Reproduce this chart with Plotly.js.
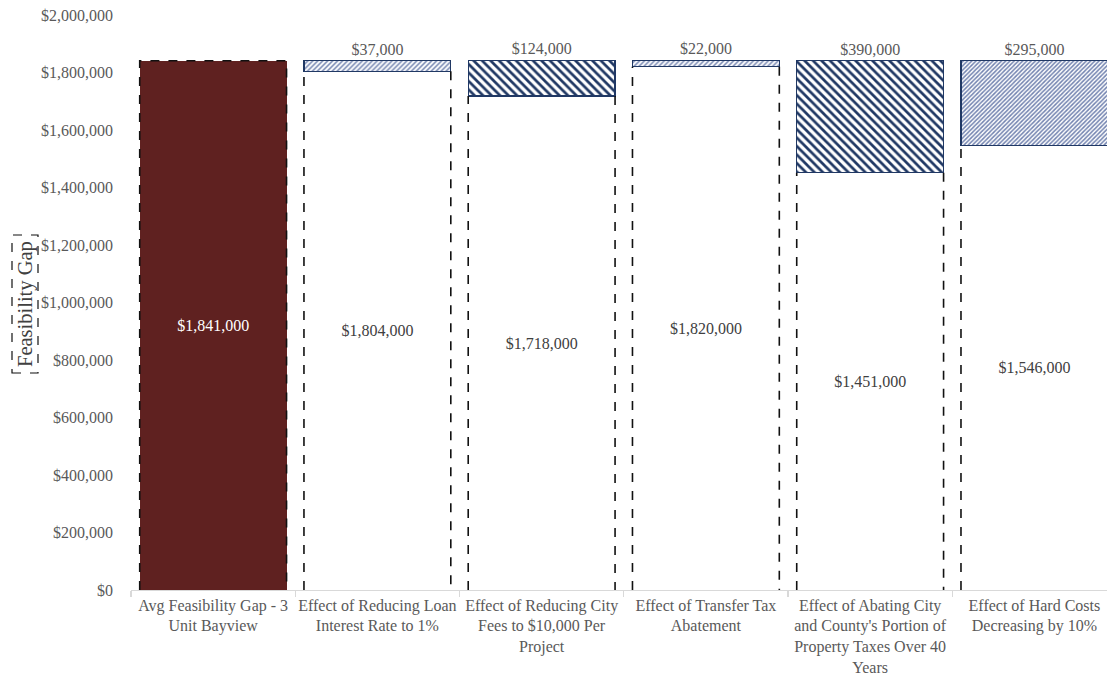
<!DOCTYPE html>
<html>
<head>
<meta charset="utf-8">
<script src="https://cdn.plot.ly/plotly-3.0.1.min.js"></script>
<style>html,body{margin:0;padding:0;background:#fff;overflow:hidden}#chart{width:1107px;height:678px}</style>
</head>
<body>
<div id="chart"></div>
<script>
// ---- data ----
const categories = [
  "Avg Feasibility Gap - 3<br>Unit Bayview",
  "Effect of Reducing Loan<br>Interest Rate to 1%",
  "Effect of Reducing City<br>Fees to $10,000 Per<br>Project",
  "Effect of Transfer Tax<br>Abatement",
  "Effect of Abating City<br>and County's Portion of<br>Property Taxes Over 40<br>Years",
  "Effect of Hard Costs<br>Decreasing by 10%"
];
const remainingGap = [1841000, 1804000, 1718000, 1820000, 1451000, 1546000];
const reduction    = [null, 37000, 124000, 22000, 390000, 295000];
const yTicks = [0, 200000, 400000, 600000, 800000, 1000000, 1200000, 1400000, 1600000, 1800000, 2000000];

// ---- styling ----
const FONT = "Liberation Serif, Times New Roman, serif";
const GRAY = "#595959";
const NAVY = "#203864";
const FS = 16;
const barW = 0.894;
const xIdx = categories.map((_, i) => i);
const fmt = v => "$" + v.toLocaleString("en-US");

const baseColors = remainingGap.map((_, i) => i === 0 ? "#5F2120" : "#ffffff");
const baseTextColors = remainingGap.map((_, i) => i === 0 ? "#ffffff" : "#404040");
const patShapes = ["", "/", "\\", "/", "\\", "/"];
const patSizes  = [8, 3.5, 6, 3.5, 6, 3];
const patSolid  = [0.3, 0.4, 0.45, 0.4, 0.45, 0.5];
const patFg     = ["#fff", "#6a7cab", NAVY, "#6a7cab", NAVY, "#7283b0"];

// dashed outlines built from the data
const ox = [], oy = [];
remainingGap.forEach((v, i) => {
  const l = i - barW / 2, r = i + barW / 2;
  if (reduction[i] == null) {
    ox.push(l, l, r, r, null); oy.push(0, v, v, 0, null);
  } else {
    ox.push(l, l, null, r, r, null); oy.push(0, v, null, v, 0, null);
  }
});

const traces = [
  {
    type: "bar", x: xIdx, y: remainingGap, width: barW,
    marker: { color: baseColors, line: { width: 0 } },
    text: remainingGap.map(fmt), textposition: "inside", insidetextanchor: "middle",
    textangle: 0, constraintext: "none",
    textfont: { family: FONT, size: FS, color: baseTextColors },
    hoverinfo: "skip", showlegend: false
  },
  {
    type: "bar", x: xIdx, y: reduction, width: barW,
    marker: {
      color: "#ffffff",
      line: { color: NAVY, width: 1.2 },
      pattern: { shape: patShapes, size: patSizes, solidity: patSolid, fgcolor: patFg, bgcolor: "#ffffff", fillmode: "replace" }
    },
    text: reduction.map(v => v == null ? "" : fmt(v)), textposition: "outside",
    textangle: 0, constraintext: "none", cliponaxis: false,
    textfont: { family: FONT, size: FS, color: GRAY },
    hoverinfo: "skip", showlegend: false
  },
  {
    type: "scatter", mode: "lines", x: ox, y: oy,
    line: { color: "#111111", width: 1.6, dash: "dash" },
    hoverinfo: "skip", showlegend: false
  }
];

const layout = {
  width: 1107, height: 678,
  margin: { l: 131, r: 0, t: 15, b: 88 },
  paper_bgcolor: "#ffffff", plot_bgcolor: "#ffffff",
  barmode: "stack",
  font: { family: FONT, size: FS, color: GRAY },
  xaxis: {
    range: [-0.5, 5.442], tickmode: "array", tickvals: xIdx, ticktext: categories,
    ticks: "", showgrid: false, zeroline: false,
    showline: true, linecolor: "#d9d9d9", linewidth: 1.3,
    tickfont: { family: FONT, size: FS, color: GRAY }
  },
  xaxis2: {
    overlaying: "x", matches: "x", range: [-0.5, 5.442],
    tickmode: "array", tickvals: [-0.5, 0.5, 1.5, 2.5, 3.5, 4.5, 5.5],
    ticks: "outside", ticklen: 6, tickcolor: "#d9d9d9", tickwidth: 1.3,
    showticklabels: false, showgrid: false, zeroline: false, showline: false
  },
  yaxis: {
    range: [0, 2000000], tickmode: "array", tickvals: yTicks,
    ticktext: yTicks.map(fmt), showgrid: false, zeroline: false, showline: false,
    ticks: "", ticklabelstandoff: 17,
    tickfont: { family: FONT, size: FS, color: GRAY }
  },
  annotations: [{
    text: "Feasibility Gap", xref: "paper", yref: "paper",
    x: (25 - 131) / 976, y: (590 - 304) / 575, textangle: -90,
    showarrow: false, xanchor: "center", yanchor: "middle",
    font: { family: FONT, size: 20.5, color: "#404040" }
  }],
  shapes: [{
    type: "rect", xref: "paper", yref: "paper",
    x0: (12 - 131) / 976, x1: (38 - 131) / 976,
    y0: (590 - 373) / 575, y1: (590 - 235) / 575,
    line: { color: "#111111", width: 1.2, dash: "dash" }
  }]
};

// invisible trace bound to xaxis2 so its ticks render
traces.push({ type: "scatter", x: [0], y: [0], xaxis: "x2", mode: "markers", marker: { opacity: 0 }, hoverinfo: "skip", showlegend: false });

Plotly.newPlot("chart", traces, layout, { displayModeBar: false, staticPlot: true });
</script>
</body>
</html>
